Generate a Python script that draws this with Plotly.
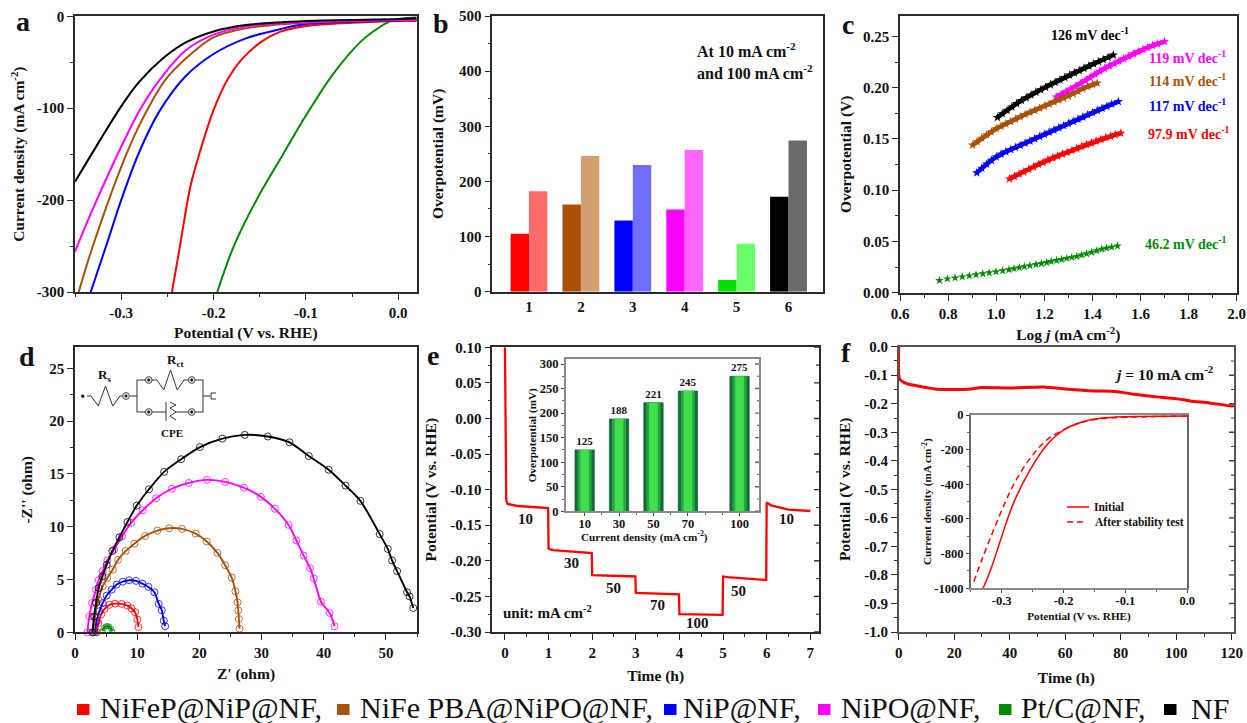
import plotly.graph_objects as go

W, H = 1247, 723
FONT = "Liberation Serif"
FRAME = "#2a2a2a"

# ---------- panel a: polarisation curves ----------
a_black_x = [-0.35, -0.323, -0.30, -0.281, -0.255, -0.23, -0.20, -0.165, -0.10, 0.0, 0.02]
a_black_y = [-180, -135, -98, -72, -46, -28.5, -16.5, -9.5, -5, -3, -2]
a_magenta_x = [-0.35, -0.333, -0.30, -0.281, -0.259, -0.23, -0.20, -0.165, -0.10, 0.0, 0.02]
a_magenta_y = [-256, -215, -142, -104, -70, -37, -20, -11, -6.5, -4, -4]
a_brown_x = [-0.346, -0.332, -0.30, -0.281, -0.252, -0.23, -0.20, -0.165, -0.10, 0.0, 0.02]
a_brown_y = [-300, -254, -164, -120, -69, -46, -23, -13, -7, -4, -4]
a_blue_x = [-0.333, -0.316, -0.30, -0.281, -0.259, -0.23, -0.20, -0.165, -0.128, -0.10, 0.0, 0.02]
a_blue_y = [-300, -249, -200, -149, -104, -65, -41, -24, -14, -8.5, -4.5, -4]
a_red_x = [-0.245, -0.236, -0.225, -0.214, -0.20, -0.185, -0.17, -0.148, -0.128, -0.10, -0.05, 0.0, 0.02]
a_red_y = [-300, -248, -185, -145, -102, -69, -47.5, -27.5, -17, -10.5, -7, -5, -5]
a_green_x = [-0.196, -0.178, -0.153, -0.124, -0.10, -0.07, -0.04, -0.022, -0.008, 0.0, 0.02]
a_green_y = [-300, -250, -199, -149, -108, -62, -27, -13, -5, -3, -1]

# ---------- panel b: overpotential bars ----------
b_categories = [1, 2, 3, 4, 5, 6]
b_at10 = [105, 158, 129, 149, 21, 172]
b_at100 = [182, 246, 230, 257, 87, 274]
b_dark = ["#ff0000", "#a85207", "#0000ff", "#ff00ff", "#00e000", "#000000"]
b_light = ["#ff6a6a", "#d49f70", "#6e6eff", "#ff66ff", "#6aff6a", "#6a6a6a"]

# ---------- panel c: Tafel plots ----------
c_green_x = [0.764, 0.797, 0.829, 0.859, 0.888, 0.916, 0.944, 0.971, 0.999, 1.027, 1.053, 1.074, 1.096, 1.117, 1.14, 1.165,
             1.188, 1.21, 1.229, 1.251, 1.272, 1.293, 1.314, 1.335, 1.355, 1.376, 1.397, 1.418, 1.439, 1.459, 1.48, 1.504]
c_green_y = [.012, .0135, .0145, .0155, .0165, .0175, .0185, .0195, .0205, .0215, .0225, .0235, .0245, .0255, .0265, .0275,
             .0285, .0295, .0305, .0315, .0325, .0335, .0345, .0355, .0368, .038, .0395, .041, .0425, .0435, .0445, .0456]
c_black_x = [1.005, 1.025, 1.045, 1.065, 1.085, 1.105, 1.125, 1.145, 1.165, 1.185, 1.205, 1.225, 1.245, 1.265, 1.285, 1.305,
             1.325, 1.345, 1.365, 1.385, 1.405, 1.425, 1.445, 1.465, 1.487]
c_black_y = [.171, .1747, .178, .1813, .1845, .1875, .1903, .193, .1956, .1981, .2005, .2029, .2053, .2077, .21, .2123,
             .2146, .2168, .219, .2212, .2233, .2254, .2275, .2296, .232]
c_magenta_x = [1.25, 1.27, 1.29, 1.31, 1.33, 1.35, 1.37, 1.39, 1.41, 1.43, 1.45, 1.47, 1.49, 1.51, 1.53, 1.55, 1.57, 1.59,
               1.61, 1.63, 1.65, 1.67, 1.70]
c_magenta_y = [.191, .1935, .196, .1985, .2012, .204, .207, .21, .2132, .2162, .2188, .2212, .2236, .226, .2284, .2308, .2332,
               .2353, .2373, .2392, .2411, .2428, .245]
c_brown_x = [.902, .92, .94, .96, .98, 1.0, 1.02, 1.04, 1.06, 1.08, 1.10, 1.12, 1.14, 1.16, 1.18, 1.20, 1.22, 1.24, 1.26, 1.28,
             1.30, 1.32, 1.34, 1.36, 1.38, 1.40, 1.42]
c_brown_y = [.144, .1473, .1508, .154, .157, .16, .1625, .1648, .167, .1693, .1716, .1739, .176, .178, .18, .182, .184, .186,
             .188, .1898, .1918, .194, .1965, .1992, .2013, .203, .2045]
c_blue_x = [.919, .94, .96, .98, 1.0, 1.02, 1.04, 1.06, 1.08, 1.10, 1.12, 1.14, 1.16, 1.18, 1.20, 1.22, 1.24, 1.26, 1.28, 1.30,
            1.32, 1.34, 1.36, 1.38, 1.40, 1.42, 1.44, 1.46, 1.48, 1.508]
c_blue_y = [.117, .1215, .1255, .1292, .1325, .1353, .1375, .1396, .1417, .1438, .1459, .148, .1502, .1523, .1545, .1566, .1587,
            .1608, .163, .1651, .1672, .1693, .1714, .1735, .1757, .1778, .18, .1819, .184, .1865]
c_red_x = [1.055, 1.075, 1.095, 1.115, 1.135, 1.155, 1.175, 1.195, 1.215, 1.235, 1.255, 1.275, 1.295, 1.315, 1.335, 1.355,
           1.375, 1.395, 1.415, 1.435, 1.455, 1.475, 1.495, 1.518]
c_red_y = [.111, .1135, .1158, .118, .1203, .1227, .125, .1272, .1295, .1315, .1333, .1352, .137, .1388, .1407, .1427, .1445,
           .1463, .148, .1497, .1513, .1527, .1542, .1556]

# ---------- panel d: Nyquist plots ----------
d_black_x = [2.8, 3.06, 3.4, 3.8, 4.4, 5.1, 6.0, 7.14, 8.43, 9.93, 11.9, 14.33, 17.07, 20.1, 23.7, 27.3, 31.0, 34.5, 37.6,
             40.8, 43.5, 45.9, 49.0, 50.3, 51.0, 51.8, 53.4, 53.8, 54.4]
d_black_y = [0, 1.5, 2.8, 4.2, 5.3, 6.4, 7.7, 9.0, 10.45, 12.0, 13.55, 15.2, 16.4, 17.55, 18.35, 18.7, 18.55, 18.0, 16.7,
             15.4, 13.9, 12.45, 9.3, 7.9, 6.8, 5.8, 3.8, 3.4, 2.3]
d_magenta_x = [2.0, 2.3, 2.74, 3.38, 3.8, 4.46, 5.2, 6.28, 7.57, 9.02, 10.9, 13.04, 15.57, 18.3, 21.25, 24.15, 27.16, 29.9,
               32.15, 34.35, 35.6, 36.77, 37.8, 38.4, 39.56, 40.95, 41.75]
d_magenta_y = [0, 1.5, 2.78, 4.04, 4.93, 5.81, 6.82, 7.83, 9.1, 10.36, 11.56, 12.7, 13.6, 14.15, 14.44, 14.25, 13.7, 12.83,
               11.7, 10.17, 8.7, 7.27, 6.07, 5.1, 2.9, 1.83, 0.57]
d_brown_x = [2.95, 3.22, 3.76, 4.46, 5.2, 6.07, 6.92, 8.16, 9.55, 11.27, 13.26, 15.14, 17.2, 19.4, 21.2, 22.9, 24.15, 25.2,
             25.8, 26.14, 26.25, 26.36, 26.46]
d_brown_y = [0, 1.5, 3.1, 4.36, 5.15, 5.94, 6.86, 7.71, 8.4, 9.13, 9.64, 9.86, 9.8, 9.35, 8.6, 7.52, 6.35, 5.18,
             3.89, 2.84, 2.08, 1.26, 0.35]
d_blue_x = [3.2, 3.49, 3.92, 4.46, 5.1, 5.9, 6.71, 7.68, 8.7, 9.82, 10.84, 11.8, 12.77, 13.47, 13.96, 14.28, 14.5]
d_blue_y = [0, 1.04, 2.0, 2.78, 3.48, 4.04, 4.52, 4.8, 4.93, 4.87, 4.61, 4.3, 3.79, 2.69, 2.08, 1.1, 0.57]
d_red_x = [3.49, 3.76, 4.19, 4.72, 5.53, 6.44, 7.5, 8.43, 9.07, 9.66, 10.04, 10.2]
d_red_y = [0, 0.88, 1.67, 2.2, 2.6, 2.72, 2.69, 2.53, 2.27, 1.9, 1.2, 0.5]
d_green_x = [4.4, 4.6, 4.9, 5.2, 5.5, 5.8, 6.0]
d_green_y = [0.1, 0.4, 0.55, 0.6, 0.55, 0.35, 0.1]

# ---------- panel e: step test and inset ----------
e_time = [0, 0.01, 0.03, 0.06, 0.3, 0.99, 1.0, 1.1, 1.99, 2.0, 2.99, 3.0, 3.99, 4.0, 4.99, 5.0, 5.1, 5.99, 6.0, 6.1, 6.5, 7.0]
e_pot = [0.10, 0.04, -0.115, -0.12, -0.123, -0.126, -0.183, -0.185, -0.189, -0.22, -0.222, -0.245, -0.247, -0.275, -0.276,
         -0.222, -0.223, -0.227, -0.118, -0.122, -0.128, -0.13]
e_step_labels = ["10", "30", "50", "70", "100", "50", "10"]
e_inset_j = [10, 30, 50, 70, 100]
e_inset_eta = [125, 188, 221, 245, 275]

# ---------- panel f: stability and inset ----------
f_time = [0, 0.15, 1, 3, 8, 13, 20, 26, 30, 40, 52, 60, 70, 78, 85, 92, 100, 105, 112, 120, 120.8]
f_pot = [0, -.11, -.12, -.13, -.14, -.148, -.15, -.148, -.143, -.145, -.141, -.148, -.155, -.157, -.167, -.175, -.182, -.19,
         -.197, -.208, -.207]
f_init_x = [-.33, -.316, -.30, -.281, -.254, -.227, -.20, -.168, -.141, -.10, 0.0]
f_init_y = [-1000, -875, -702, -510, -317, -173, -87, -38, -19, -10, -6]
f_after_x = [-.345, -.33, -.303, -.281, -.254, -.227, -.195, -.163, -.13, -.10, -.06, 0.0]
f_after_y = [-962, -817, -577, -404, -250, -144, -77, -35, -19, -13, -10, -6]

# ---------- legend ----------
legend_names = ["NiFeP@NiP@NF,", "NiFe PBA@NiPO@NF,", "NiP@NF,", "NiPO@NF,", "Pt/C@NF,", "NF"]
legend_colors = ["#ff0000", "#a85207", "#0000ff", "#ff00ff", "#008a00", "#000000"]
legend_text_x = [98, 358, 681, 839, 1019, 1189]
legend_box_x = [77, 337, 664, 818, 999, 1164]

C = dict(red="#ff0000", brown="#a85207", blue="#0000ff", magenta="#ff00ff", green="#008a00", black="#000000")


def px(x):
    return x / W


def py(y):
    return 1 - y / H


fig = go.Figure()
layout = {}
shapes = []
annots = []


def axis_common(size=15):
    return dict(showline=True, mirror=True, linecolor=FRAME, linewidth=1.6, ticks="outside", ticklen=6, tickwidth=1.4,
                tickcolor=FRAME, showgrid=False, zeroline=False,
                tickfont=dict(family=FONT, size=size, color="#111", weight="bold"))


def set_axes(n, box, xr, yr, xt, yt, xtitle=None, ytitle=None, xminor=None, yminor=None, size=15, tsize=15.5,
             xstand=8, ystand=6, xlabels=None, ylabels=None):
    s = "" if n == 1 else str(n)
    xa = axis_common(size)
    ya = axis_common(size)
    xa.update(domain=[px(box[0]), px(box[1])], range=xr, tickmode="array", tickvals=xt,
              ticktext=xlabels or [str(v) for v in xt], anchor="y" + s, automargin=False)
    ya.update(domain=[py(box[3]), py(box[2])], range=yr, tickmode="array", tickvals=yt,
              ticktext=ylabels or [str(v) for v in yt], anchor="x" + s, automargin=False)
    if xminor:
        xa["minor"] = dict(ticks="outside", ticklen=3, tickwidth=1.1, tickcolor=FRAME, tickmode="array", tickvals=xminor)
    if yminor:
        ya["minor"] = dict(ticks="outside", ticklen=3, tickwidth=1.1, tickcolor=FRAME, tickmode="array", tickvals=yminor)
    tf = dict(family=FONT, size=tsize, color="#111", weight="bold")
    if xtitle:
        xa["title"] = dict(text=xtitle, font=tf, standoff=xstand)
    if ytitle:
        ya["title"] = dict(text=ytitle, font=tf, standoff=ystand)
    layout["xaxis" + s] = xa
    layout["yaxis" + s] = ya
    return "x" + s, "y" + s


def right_ticks(right, yref, yt, yminor, color=FRAME, major=5, minor=3):
    """Inward ticks on the right edge of a panel, placed by the panel's own y axis."""
    for vals, length, lw in ((yt, major, 1.4), (yminor, minor, 1.1)):
        for v in vals:
            shapes.append(dict(type="line", xref="paper", yref=yref, x0=px(right), x1=px(right - length), y0=v, y1=v,
                               line=dict(color=color, width=lw)))


def text(x, y, t, size=14, color="#111", bold=True, anchor="center", family=FONT, height=None):
    a = dict(x=px(x), y=py(y), xref="paper", yref="paper", text=t, showarrow=False, xanchor=anchor, yanchor="middle",
             font=dict(family=family, size=size, color=color, weight="bold" if bold else "normal"))
    if height:
        a["height"] = height
    annots.append(a)


def inset_ticks(n):
    s = str(n)
    for k in ("xaxis" + s, "yaxis" + s):
        layout[k]["ticklen"] = 3
        layout[k]["tickwidth"] = 1
        layout[k]["linecolor"] = "#8a8a8a"
        layout[k]["tickcolor"] = "#444"
        if "minor" in layout[k]:
            layout[k]["minor"]["ticklen"] = 2
            layout[k]["minor"]["tickcolor"] = "#666"
    layout["xaxis" + s]["ticklabelstandoff"] = -3


# a
xa_, ya_ = set_axes(1, (75, 416.7, 16.3, 292), [-0.35, 0.02], [-300, 0], [-0.3, -0.2, -0.1, 0.0],
                    [0, -100, -200, -300], "Potential (V vs. RHE)", "Current density (mA cm<sup>-2</sup>)",
                    xminor=[-.35, -.25, -.15, -.05], yminor=[-50, -150, -250],
                    xlabels=["-0.3", "-0.2", "-0.1", "0.0"], xstand=7, ystand=8)
for xs, ys, col, nm in [(a_red_x, a_red_y, "red", "a red"), (a_green_x, a_green_y, "green", "a green"),
                        (a_blue_x, a_blue_y, "blue", "a blue"), (a_brown_x, a_brown_y, "brown", "a brown"),
                        (a_magenta_x, a_magenta_y, "magenta", "a magenta"), (a_black_x, a_black_y, "black", "a black")]:
    fig.add_trace(go.Scatter(x=xs, y=ys, mode="lines", line=dict(color=C[col], width=2, shape="spline", smoothing=0.9), name=nm,
                             xaxis=xa_, yaxis=ya_))

# b
xb_, yb_ = set_axes(2, (492.3, 823.3, 16, 291.7), [0.293, 6.67], [0, 500], b_categories, [0, 100, 200, 300, 400, 500],
                    None, "Overpotential (mV)", yminor=[50, 150, 250, 350, 450], ystand=12)
fig.add_trace(go.Bar(x=b_categories, y=b_at10, marker=dict(color=b_dark, line=dict(width=0)), name="10 mA", xaxis=xb_, yaxis=yb_,
                     width=0.355, offset=-0.355))
fig.add_trace(go.Bar(x=b_categories, y=b_at100, marker=dict(color=b_light, line=dict(width=0)), name="100 mA", xaxis=xb_,
                     yaxis=yb_, width=0.355, offset=0))
layout["xaxis2"]["ticks"] = ""
text(695, 50, "At 10 mA cm<sup>-2</sup>", size=16, anchor="left")
text(695, 72, "and 100 mA cm<sup>-2</sup>", size=16, anchor="left")

# c
xc_, yc_ = set_axes(3, (900, 1236.7, 16, 292.7), [0.6, 2.0], [0, 0.27], [.6, .8, 1.0, 1.2, 1.4, 1.6, 1.8, 2.0],
                    [0, .05, .10, .15, .20, .25], "Log <i>j</i> (mA cm<sup>-2</sup>)", "Overpotential (V)",
                    xminor=[.7, .9, 1.1, 1.3, 1.5, 1.7, 1.9], yminor=[.025, .075, .125, .175, .225],
                    xlabels=["0.6", "0.8", "1.0", "1.2", "1.4", "1.6", "1.8", "2.0"],
                    ylabels=["0.00", "0.05", "0.10", "0.15", "0.20", "0.25"], xstand=9, ystand=8)
for xs, ys, col in [(c_black_x, c_black_y, "black"), (c_magenta_x, c_magenta_y, "magenta"), (c_brown_x, c_brown_y, "brown"),
                    (c_blue_x, c_blue_y, "blue"), (c_red_x, c_red_y, "red")]:
    fig.add_trace(go.Scatter(x=xs, y=ys, mode="lines+markers", line=dict(color=C[col], width=4.5),
                             marker=dict(symbol="star", size=7, color=C[col], line=dict(width=0)), name="c " + col,
                             xaxis=xc_, yaxis=yc_))
fig.add_trace(go.Scatter(x=c_green_x, y=c_green_y, mode="markers", marker=dict(symbol="star", size=6.5, color=C["green"], line=dict(width=0)),
                         name="c green", xaxis=xc_, yaxis=yc_))
for x_, y_, t, col in [(1090, 34, "126", "black"), (1187, 57, "119", "magenta"), (1187, 80, "114", "brown"),
                       (1187, 105, "117", "blue"), (1188, 133, "97.9", "red"), (1185, 243, "46.2", "green")]:
    text(x_, y_, t + " mV dec<sup>-1</sup>", size=14, color=C[col])

# d
xd_, yd_ = set_axes(4, (75, 417, 347.3, 632.3), [0, 55], [0, 27], [0, 10, 20, 30, 40, 50], [0, 5, 10, 15, 20, 25],
                    "Z' (ohm)", "-Z'' (ohm)", xminor=[5, 15, 25, 35, 45, 55], yminor=[2.5, 7.5, 12.5, 17.5, 22.5],
                    xstand=8, ystand=13)
for xs, ys, col, sz in [(d_red_x, d_red_y, "red", 7), (d_green_x, d_green_y, "green", 5), (d_blue_x, d_blue_y, "blue", 7),
                        (d_brown_x, d_brown_y, "brown", 7), (d_magenta_x, d_magenta_y, "magenta", 7),
                        (d_black_x, d_black_y, "black", 7)]:
    fig.add_trace(go.Scatter(x=xs, y=ys, mode="lines+markers", line=dict(color=C[col], width=1.9, shape="spline", smoothing=0.8),
                             marker=dict(symbol="circle-open", size=sz, color=C[col], line=dict(width=0.8)),
                             name="d " + col, xaxis=xd_, yaxis=yd_, cliponaxis=False))

# e
e_yt = [.10, .05, 0, -.05, -.10, -.15, -.20, -.25, -.30]
e_ym = [.075, .025, -.025, -.075, -.125, -.175, -.225, -.275]
xe_, ye_ = set_axes(5, (492.3, 819, 347.3, 632), [-0.29, 7.2], [-0.30, 0.10], [0, 1, 2, 3, 4, 5, 6, 7],
                    e_yt, "Time (h)", "Potential (V vs. RHE)",
                    xminor=[.5, 1.5, 2.5, 3.5, 4.5, 5.5, 6.5], yminor=e_ym,
                    ylabels=["0.10", "0.05", "0.00", "-0.05", "-0.10", "-0.15", "-0.20", "-0.25", "-0.30"],
                    xstand=10, ystand=10)
fig.add_trace(go.Scatter(x=e_time, y=e_pot, mode="lines", line=dict(color=C["red"], width=2.3), name="e", xaxis=xe_, yaxis=ye_))
right_ticks(819, ye_, e_yt, e_ym)
for (x_, y_), t in zip([(525, 519), (571, 563), (613, 588), (657, 605), (697, 623), (738, 591), (787, 519)], e_step_labels):
    text(x_, y_, t, size=15)
text(547, 612, "unit: mA cm<sup>-2</sup>", size=15)

ei_yt = [0, 50, 100, 150, 200, 250, 300]
ei_ym = [25, 75, 125, 175, 225, 275]
xei, yei = set_axes(6, (565.7, 759, 359.3, 511.3), [-1, 111.3], [0, 309.6], e_inset_j, ei_yt,
                    None, "Overpotential (mV)", yminor=ei_ym,
                    xminor=[20, 40, 60, 80, 90], size=12.5, tsize=11.2, ystand=1)
inset_ticks(6)
fig.add_trace(go.Bar(x=e_inset_j, y=e_inset_eta, width=11.2, text=[str(v) for v in e_inset_eta], textposition="outside",
                     textfont=dict(family=FONT, size=11, color="#111", weight="bold"), cliponaxis=False,
                     marker=dict(color="#136b3c", line=dict(color="#136b3c", width=0.8)), name="e inset", xaxis=xei, yaxis=yei))
fig.add_trace(go.Bar(x=e_inset_j, y=e_inset_eta, width=8.2, marker=dict(color="#22a83e", line=dict(width=0)), name="e inset mid",
                     xaxis=xei, yaxis=yei, hoverinfo="skip"))
fig.add_trace(go.Bar(x=e_inset_j, y=e_inset_eta, width=5, marker=dict(color="#3fe04c", line=dict(width=0)), name="e inset core",
                     xaxis=xei, yaxis=yei, hoverinfo="skip"))
right_ticks(759, yei, ei_yt, ei_ym, color="#666", major=4, minor=2)
text(644, 536.5, "Current density (mA cm<sup>-2</sup>)", size=11.2)

# f
f_yt = [0, -.1, -.2, -.3, -.4, -.5, -.6, -.7, -.8, -.9, -1.0]
f_ym = [-.05, -.15, -.25, -.35, -.45, -.55, -.65, -.75, -.85, -.95]
xf_, yf_ = set_axes(7, (898.7, 1234, 346.7, 632), [0, 120.8], [-1.0, 0.0], [0, 20, 40, 60, 80, 100, 120],
                    f_yt, "Time (h)", "Potential (V vs. RHE)",
                    xminor=[10, 30, 50, 70, 90, 110], yminor=f_ym,
                    ylabels=["0.0", "-0.1", "-0.2", "-0.3", "-0.4", "-0.5", "-0.6", "-0.7", "-0.8", "-0.9", "-1.0"],
                    xstand=12, ystand=10)
layout["xaxis7"]["linecolor"] = "#555"
layout["yaxis7"]["linecolor"] = "#555"
fig.add_trace(go.Scatter(x=f_time, y=f_pot, mode="lines", line=dict(color=C["red"], width=3, shape="spline", smoothing=0.5),
                         name="f", xaxis=xf_, yaxis=yf_))
right_ticks(1234, yf_, f_yt[1:-1], f_ym, color="#444")
text(1163, 373, "<i>j</i> = 10 mA cm<sup>-2</sup>", size=15.5)

xfi, yfi = set_axes(8, (970.7, 1187.3, 415, 588.3), [-0.35, 0.0], [-1000, 0], [-0.3, -0.2, -0.1, 0.0],
                    [0, -200, -400, -600, -800, -1000], "Potential (V vs. RHE)", "Current density (mA cm<sup>-2</sup>)",
                    xminor=[-.35, -.25, -.15, -.05], yminor=[-100, -300, -500, -700, -900],
                    xlabels=["-0.3", "-0.2", "-0.1", "0.0"], size=12.5, tsize=11.2, xstand=5, ystand=0)
inset_ticks(8)
layout["yaxis8"]["linecolor"] = "#666"
fig.add_trace(go.Scatter(x=f_init_x, y=f_init_y, mode="lines", line=dict(color=C["red"], width=1.5, shape="spline"),
                         name="Initial", xaxis=xfi, yaxis=yfi))
fig.add_trace(go.Scatter(x=f_after_x, y=f_after_y, mode="lines", line=dict(color=C["red"], width=1.5, dash="6px,4px", shape="spline"),
                         name="After stability test", xaxis=xfi, yaxis=yfi))
shapes.append(dict(type="line", xref="paper", yref="paper", x0=px(1067), x1=px(1089), y0=py(507), y1=py(507),
                   line=dict(color=C["red"], width=1.5)))
shapes.append(dict(type="line", xref="paper", yref="paper", x0=px(1067), x1=px(1085), y0=py(522), y1=py(522),
                   line=dict(color=C["red"], width=1.5, dash="6px,4px")))
text(1092, 507, "Initial", size=11.5, anchor="left")
text(1093, 522, "After stability test", size=11.5, anchor="left")

# panel letters
for x_, y_, t in [(23, 21, "a"), (441, 23, "b"), (848, 25, "c"), (27, 356, "d"), (433, 355, "e"), (846, 352, "f")]:
    text(x_, y_, t, size=28)


# equivalent circuit drawn in panel d
def zz(x0, x1, y, n=4, amp=10):
    pts = [(x0, y)]
    step = (x1 - x0) / (2 * n)
    for i in range(1, 2 * n):
        pts.append((x0 + i * step, y + (amp if i % 2 else -amp)))
    pts.append((x1, y))
    return pts


def poly(pts, color="#333", width=1):
    p = "M " + " L ".join(f"{px(a):.5f} {py(b):.5f}" for a, b in pts)
    shapes.append(dict(type="path", path=p, xref="paper", yref="paper", line=dict(color=color, width=width)))


def node(x, y, r=3.4):
    shapes.append(dict(type="circle", xref="paper", yref="paper", x0=px(x - r), x1=px(x + r), y0=py(y + r), y1=py(y - r),
                       line=dict(color="#555", width=1), fillcolor="#dddddd"))
    shapes.append(dict(type="circle", xref="paper", yref="paper", x0=px(x - 1), x1=px(x + 1), y0=py(y + 1), y1=py(y - 1),
                       line=dict(color="#111", width=1), fillcolor="#111"))


poly([(87, 396), (91, 396)] + zz(91, 120, 396, 2, 10) + [(122, 396)])
node(126, 396)
poly([(130, 396), (137, 396), (137, 380), (145, 380)])
poly([(137, 396), (137, 412), (145, 412)])
node(148.7, 380)
node(148.7, 412)
poly([(152, 380), (157, 380)] + zz(157, 184, 380, 2, 10) + [(188, 380)])
node(191.7, 380)
node(191.7, 412)
poly([(195, 380), (203, 380), (203, 412), (195, 412)])
poly([(152, 412), (166, 412)])
poly([(166, 402), (166, 421)])
poly([(170, 402), (176, 405), (170, 408), (176, 412), (170, 416), (176, 420)])
poly([(176, 412), (188, 412)])
poly([(203, 396), (210, 396)])
poly([(216, 393), (211, 393), (211, 399), (216, 399)])
shapes.append(dict(type="circle", xref="paper", yref="paper", x0=px(81.5), x1=px(84), y0=py(397.5), y1=py(395),
                   line=dict(color="#111", width=1), fillcolor="#111"))
text(104, 375, "R<sub>s</sub>", size=13)
text(175, 360, "R<sub>ct</sub>", size=13)
text(172, 433, "CPE", size=11)

# bottom legend
for name, col, tx, bx in zip(legend_names, legend_colors, legend_text_x, legend_box_x):
    shapes.append(dict(type="rect", xref="paper", yref="paper", x0=px(bx), x1=px(bx + 12.5), y0=py(715), y1=py(704),
                       fillcolor=col, line=dict(width=0)))
    text(tx, 708, name, size=30, bold=False, color="#111", anchor="left", height=30)

fig.update_layout(width=W, height=H, margin=dict(l=0, r=0, t=0, b=0), paper_bgcolor="white", plot_bgcolor="white",
                  showlegend=False, barmode="overlay", shapes=shapes, annotations=annots, font=dict(family=FONT), **layout)
fig.write_html("out.html", config={"displayModeBar": False},
               post_script="document.body.style.margin='0';document.body.style.overflow='hidden';")
